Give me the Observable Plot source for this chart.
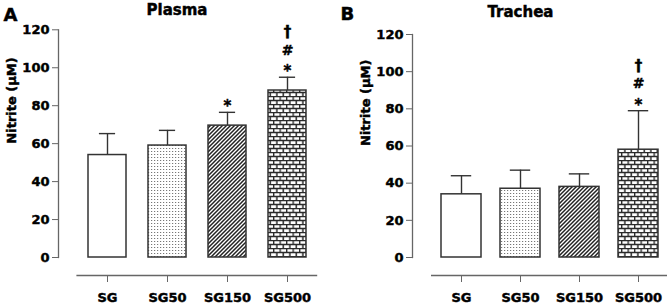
<!DOCTYPE html>
<html><head><meta charset="utf-8">
<script src="https://cdn.jsdelivr.net/npm/d3@7"></script>
<script src="https://cdn.jsdelivr.net/npm/@observablehq/plot@0.6"></script>
<style>
body{margin:0;background:#fff;}
#wrap{display:flex;width:671px;height:307px;overflow:hidden;}
#wrap svg text{stroke:#000;stroke-width:0.45px;}
</style></head><body>
<svg width="0" height="0" style="position:absolute">
<defs>
<pattern id="dots" patternUnits="userSpaceOnUse" width="3" height="3"><rect width="3" height="3" fill="#fff"/><rect x="1" y="1" width="1.2" height="1" fill="#777"/></pattern>
<pattern id="hatch" patternUnits="userSpaceOnUse" width="4" height="4"><rect width="4" height="4" fill="#fff"/><path d="M-1,1 l2,-2 M0,4 l4,-4 M3,5 l2,-2" stroke="#222" stroke-width="1.5"/></pattern>
<pattern id="brick" patternUnits="userSpaceOnUse" width="6.5" height="8"><rect width="6.5" height="8" fill="#fff"/><path d="M0,0.5 H6.5 M0,4.5 H6.5 M0.6,0.5 V4.5 M3.85,4.5 V8.5" stroke="#2a2a2a" stroke-width="1.5"/></pattern>
</defs></svg>
<div id="wrap"></div>
<script>
// ---- data ----
const groups = ["SG", "SG50", "SG150", "SG500"];
const yTicks = [0, 20, 40, 60, 80, 100, 120];

const plasmaMean = [54, 59, 69.5, 88];
const plasmaErr  = [11.3, 8, 7, 7];
const plasmaStar   = ["SG150", "SG500"];
const plasmaHash   = ["SG500"];
const plasmaDagger = ["SG500"];

const tracheaMean = [34, 37, 38, 58];
const tracheaErr  = [10, 10, 7, 21];
const tracheaStar   = ["SG500"];
const tracheaHash   = ["SG500"];
const tracheaDagger = ["SG500"];

// ---- styles ----
const fills = ["#ffffff", "url(#dots)", "url(#hatch)", "url(#brick)"];
const FONT = "DejaVu Sans";

function panel(o) {
  const data = groups.map((g, i) => ({group: g, mean: o.mean[i], top: o.mean[i] + o.err[i]}));
  const topOf = Object.fromEntries(data.map(d => [d.group, d.top]));
  return Plot.plot({
    width: o.width, height: 307,
    marginLeft: o.marginLeft, marginRight: o.marginRight,
    marginTop: o.marginTop, marginBottom: 50,
    style: {fontFamily: FONT, fontWeight: "bold", fontSize: "13px", color: "#000", background: "white", overflow: "visible"},
    x: {domain: groups, paddingInner: o.pInner, paddingOuter: o.pInner / 2, align: 0.5},
    y: {domain: [0, 120]},
    color: {domain: groups, range: fills},
    marks: [
      Plot.frame({anchor: "left", dx: o.axisDx, stroke: "#666", strokeWidth: 1.3}),
      Plot.ruleY([0], {dy: 18, stroke: "#666", strokeWidth: 1.3}),
      Plot.axisY({ticks: yTicks, dx: o.axisDx, tickSize: 6, tickPadding: 3, label: null, stroke: "#666", fill: "#000", fontSize: 13}),
      Plot.axisX({dy: 18, tickSize: 7, tickPadding: 10, label: null, stroke: "#666", fill: "#000", fontSize: 13}),
      Plot.ruleX(data, {x: "group", y1: "mean", y2: "top", stroke: "#333", strokeWidth: 1.4}),
      Plot.tickY(data, {x: "group", y: "top", insetLeft: o.capInset, insetRight: o.capInset, stroke: "#333", strokeWidth: 1.4}),
      Plot.barY(data, {x: "group", y: "mean", fill: "group", stroke: "#333", strokeWidth: 1.5}),
      Plot.text(o.star, {x: d => d, y: d => topOf[d], text: () => "*", dy: -6, lineAnchor: "middle", fontSize: 15}),
      Plot.text(o.hash, {x: d => d, y: d => topOf[d], text: () => "#", dy: -27, lineAnchor: "middle", fontSize: 14}),
      Plot.text(o.dagger, {x: d => d, y: d => topOf[d], text: () => "†", dy: -45, lineAnchor: "middle", fontSize: 15}),
      Plot.text([o.title], {frameAnchor: "top", dx: o.titleDx, dy: o.titleDy, lineAnchor: "middle", fontSize: 15}),
      Plot.text([o.letter], {frameAnchor: "top-left", textAnchor: "start", dx: o.letterDx, dy: o.letterDy, lineAnchor: "middle", fontSize: 18}),
      Plot.text(["Nitrite (μM)"], {frameAnchor: "left", rotate: -90, dx: o.labelDx, lineAnchor: "middle", fontSize: 13})
    ]
  });
}

const wrap = document.getElementById("wrap");
wrap.append(panel({
  title: "Plasma", letter: "A", mean: plasmaMean, err: plasmaErr,
  star: plasmaStar, hash: plasmaHash, dagger: plasmaDagger,
  width: 335, marginLeft: 76.4, marginRight: 17.8, marginTop: 29.3,
  pInner: 0.372, capInset: 10.9, axisDx: -18.4,
  titleDx: -20.3, titleDy: -19.3, letterDx: -73.4, letterDy: -14.3, labelDx: -65.4
}));
wrap.append(panel({
  title: "Trachea", letter: "B", mean: tracheaMean, err: tracheaErr,
  star: tracheaStar, hash: tracheaHash, dagger: tracheaDagger,
  width: 336, marginLeft: 96, marginRight: 4, marginTop: 34,
  pInner: 0.33, capInset: 9.8, axisDx: -19,
  titleDx: -29, titleDy: -22, letterDx: -91, letterDy: -20, labelDx: -66
}));
</script>
</body></html>
